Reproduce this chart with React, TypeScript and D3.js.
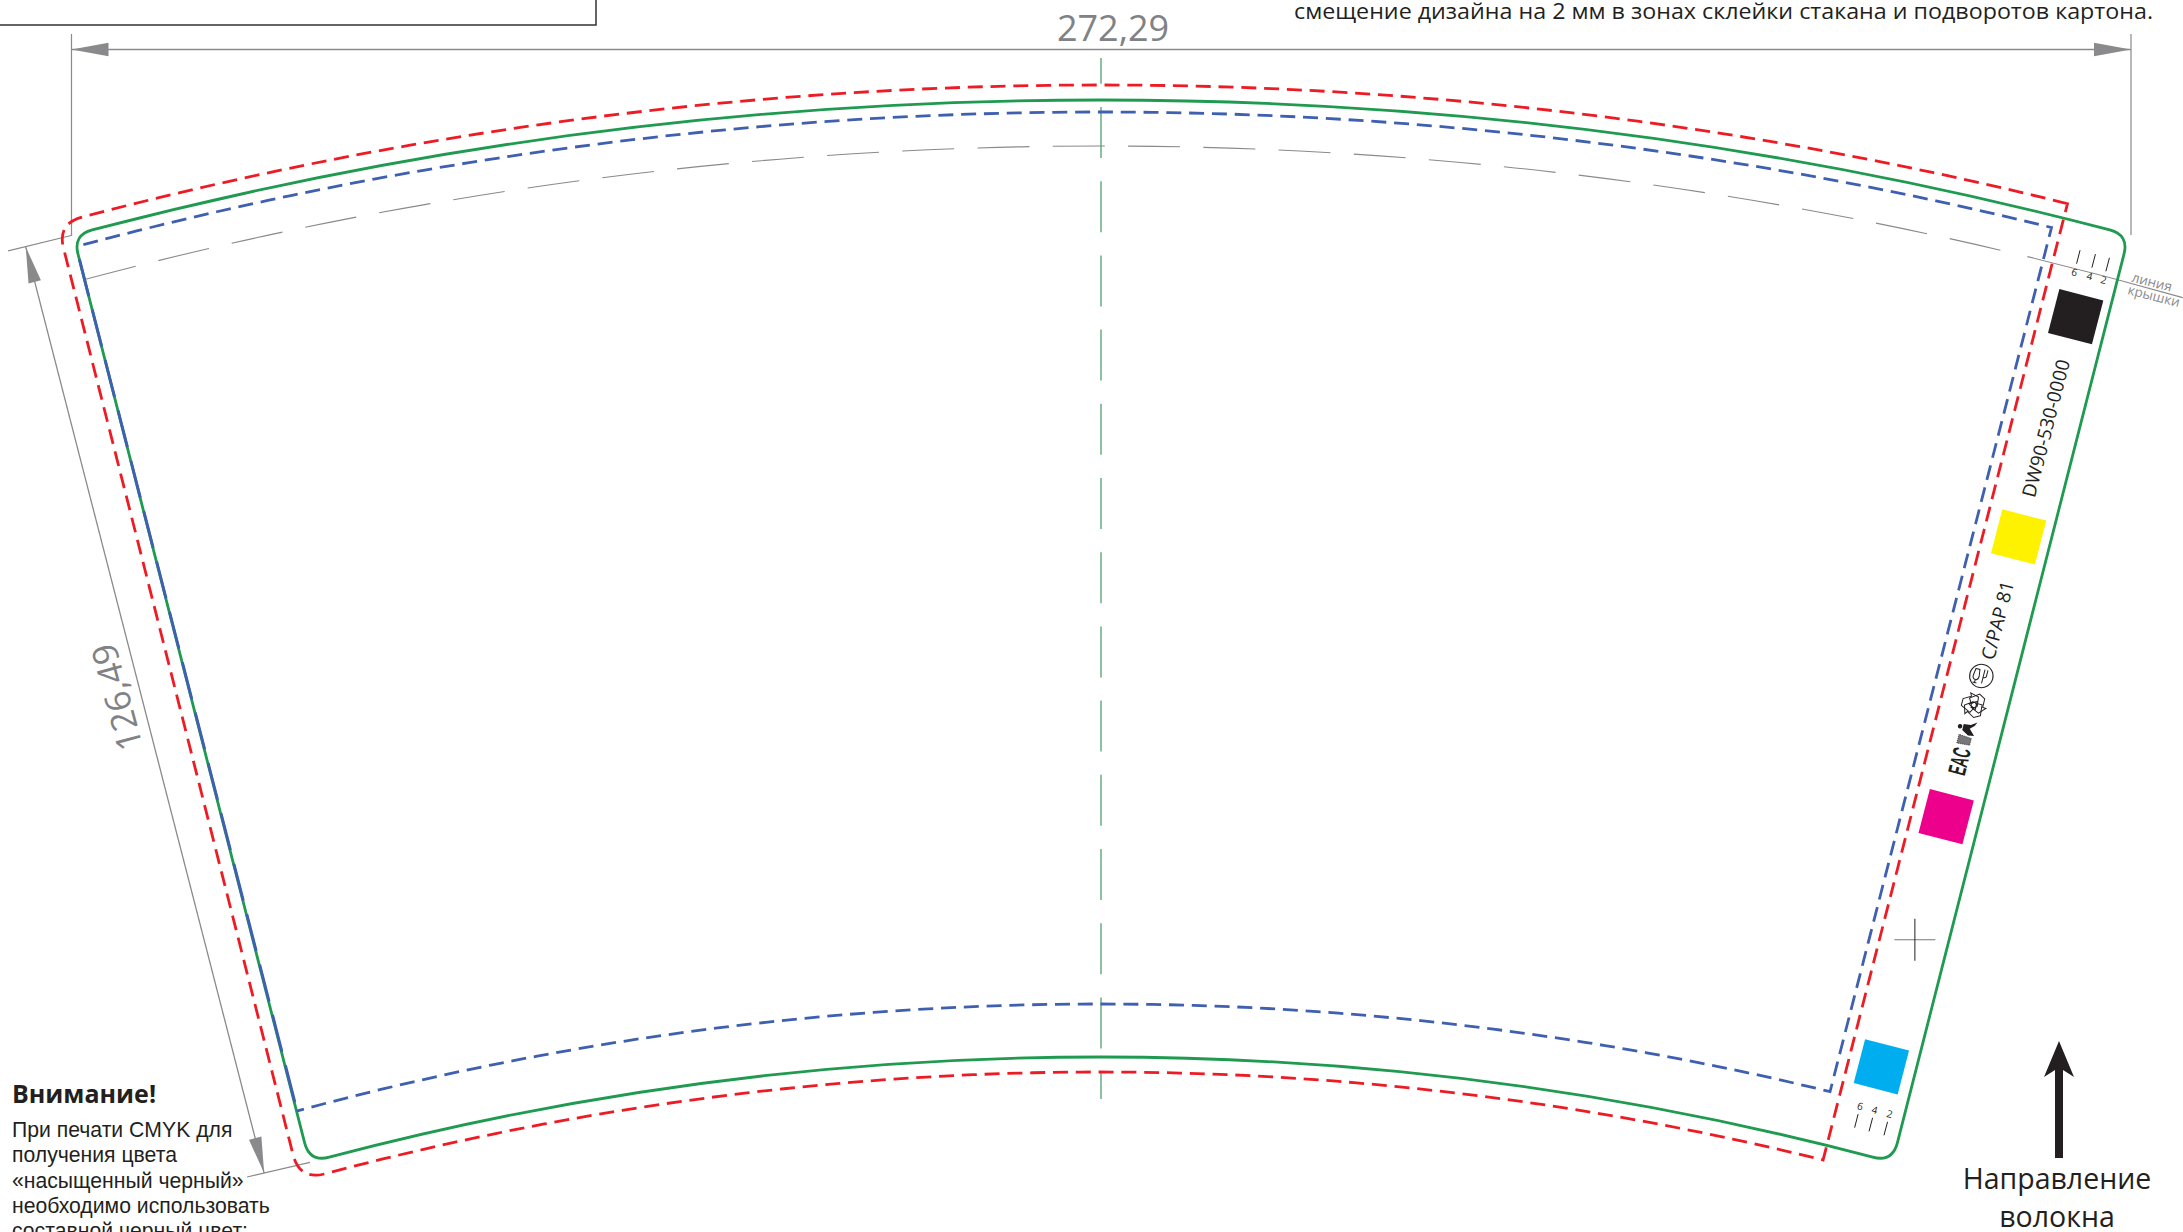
import React from "react";
import * as d3 from "d3";

const WIDTH = 2183;
const HEIGHT = 1232;

// Polar frame of the cup blank (radius in px, angle in degrees from the vertical)
const cupCenter = [1101, 4080];

const greenRadii = [3980, 3023];
const greenAngles = [14.97, 15.17];
const redRadii = [3995, 3008];
const redLeftAngles = [15.15, 15.44];
const redRightAngles = [14.0, 13.89];
const blueRadii = [3968, 3076];
const blueLeftAngles = [14.86, 15.16];
const blueRightAngles = [13.86, 13.71];
const lidRadius = 3934;
const lidDashAngles = [-14.96, 13.32];
const lidSolidAngles = [13.62, 15.96];

const swatchColors = ["#231f20", "#fff200", "#ec008c", "#00aeef"];
const swatchRadii = [3887.5, 3660, 3371, 3112.6];
const stripAngle = 14.52;

const tickLabels = ["6", "4", "2"];
const upperTickAngles = [14.34, 14.57, 14.78];
const lowerTickAngles = [14.32, 14.6, 14.89];

const widthLabel = "272,29";
const heightLabel = "126,49";
const warningTitle = "Внимание!";
const warningLines = [
  "При печати CMYK для",
  "получения цвета",
  "«насыщенный черный»",
  "необходимо использовать",
  "составной черный цвет:",
];
const noteLine = "смещение дизайна на 2 мм в зонах склейки стакана и подворотов картона.";
const grainLines = ["Направление", "волокна"];

const rad = d3.scaleLinear().domain([0, 180]).range([0, Math.PI]);
const pt = (r: number, a: number): [number, number] => [
  cupCenter[0] + r * Math.sin(rad(a)),
  cupCenter[1] - r * Math.cos(rad(a)),
];
const arcTo = (p: any, r: number, a0: number, a1: number) =>
  p.arc(cupCenter[0], cupCenter[1], r, rad(a0) - Math.PI / 2, rad(a1) - Math.PI / 2, a1 < a0);
const deg = (len: number, r: number) => ((len / r) * 180) / Math.PI;

function greenPath() {
  const [rt, rb] = greenRadii;
  const [At, Ab] = greenAngles;
  const c = 20;
  const dt = deg(c, rt);
  const db = deg(c, rb);
  const p = d3.path();
  p.moveTo(...pt(rt, -At + dt));
  arcTo(p, rt, -At + dt, At - dt);
  p.quadraticCurveTo(...pt(rt, At), ...pt(rt - c, At));
  p.lineTo(...pt(rb + c, Ab));
  p.quadraticCurveTo(...pt(rb, Ab), ...pt(rb, Ab - db));
  arcTo(p, rb, Ab - db, -Ab + db);
  p.quadraticCurveTo(...pt(rb, -Ab), ...pt(rb + c, -Ab));
  p.lineTo(...pt(rt - c, -At));
  p.quadraticCurveTo(...pt(rt, -At), ...pt(rt, -At + dt));
  p.closePath();
  return p.toString();
}

function redPath() {
  const [rt, rb] = redRadii;
  const [At, Ab] = redLeftAngles;
  const c = 26;
  const dt = deg(c, rt);
  const db = deg(c, rb);
  const p = d3.path();
  p.moveTo(...pt(rt, redRightAngles[0]));
  arcTo(p, rt, redRightAngles[0], -At + dt);
  p.quadraticCurveTo(...pt(rt, -At), ...pt(rt - c, -At));
  p.lineTo(...pt(rb + c, -Ab));
  p.quadraticCurveTo(...pt(rb, -Ab), ...pt(rb, -Ab + db));
  arcTo(p, rb, -Ab + db, redRightAngles[1]);
  p.closePath();
  return p.toString();
}

function bluePath() {
  const [rt, rb] = blueRadii;
  const p = d3.path();
  p.moveTo(...pt(rt, -blueLeftAngles[0]));
  arcTo(p, rt, -blueLeftAngles[0], blueRightAngles[0]);
  p.lineTo(...pt(rb, blueRightAngles[1]));
  arcTo(p, rb, blueRightAngles[1], -blueLeftAngles[1]);
  return p.toString();
}

function lidPath(a: number[]) {
  const p = d3.path();
  p.moveTo(...pt(lidRadius, a[0]));
  arcTo(p, lidRadius, a[0], a[1]);
  return p.toString();
}

function head(tip: number[], from: number[], len = 36, hw = 6.4) {
  const dx = tip[0] - from[0];
  const dy = tip[1] - from[1];
  const l = Math.hypot(dx, dy);
  const ux = dx / l;
  const uy = dy / l;
  const bx = tip[0] - ux * len;
  const by = tip[1] - uy * len;
  return `M${tip[0]},${tip[1]}L${bx - uy * hw},${by + ux * hw}L${bx + uy * hw},${by - ux * hw}Z`;
}

const line = (a: number[], b: number[]) => `M${a[0]},${a[1]}L${b[0]},${b[1]}`;

const GRAY = "#8a8a8c";
const DARK = "#231f20";
const MYRIAD = "'Open Sans', sans-serif";
const RECYCLE = "M-3.5,-12L3.5,-12L8,-4.5L11,-6L9,2.5L0,3.5L3,0.5L0,-5L-3.5,0.5L-8,-2Z";

function Along({ r, a, children }: any) {
  const [x, y] = pt(r, a);
  return <g transform={`translate(${x},${y}) rotate(${a - 90})`}>{children}</g>;
}

export default function App() {
  const dimTop = 49.5;
  const dimL = 71.5;
  const dimR = 2131;
  const leftTip = pt(3981, -15.67);
  const leftEnd = pt(3025, -16.06);
  const cross = pt(3244, 14.53);
  const grainX = 2059;

  return (
    <svg
      width={WIDTH}
      height={HEIGHT}
      viewBox={`0 0 ${WIDTH} ${HEIGHT}`}
      style={{ position: "absolute", left: 0, top: 0, background: "#fff" }}
    >
      {/* top-left frame */}
      <path d="M0,25H596V0" fill="none" stroke="#333" strokeWidth={1.5} />

      {/* note */}
      <text x={1294} y={19} fontFamily={MYRIAD} fontSize={22} fill={DARK} textLength={859} lengthAdjust="spacingAndGlyphs">
        {noteLine}
      </text>

      {/* width dimension */}
      <path d={`M${dimL},34V235M${dimR},34V235`} stroke={GRAY} strokeWidth={1.2} fill="none" />
      <path d={`M${dimL},${dimTop}H${dimR}`} stroke={GRAY} strokeWidth={1.5} fill="none" />
      <path d={head([dimL, dimTop], [dimR, dimTop], 37, 6.8)} fill={GRAY} />
      <path d={head([dimR, dimTop], [dimL, dimTop], 37, 6.8)} fill={GRAY} />
      <text x={1113} y={41} textAnchor="middle" fontFamily={MYRIAD} fontSize={36} fill="#808285">
        {widthLabel}
      </text>

      {/* height dimension */}
      <path d={line(pt(3982, -15.93), pt(3980, -14.98))} stroke={GRAY} strokeWidth={1.2} />
      <path d={line(pt(3026, -16.39), pt(3023, -15.17))} stroke={GRAY} strokeWidth={1.2} />
      <path d={line(leftTip, leftEnd)} stroke={GRAY} strokeWidth={1.3} />
      <path d={head(leftTip, leftEnd)} fill={GRAY} />
      <path d={head(leftEnd, leftTip)} fill={GRAY} />
      <text transform="translate(129,694) rotate(-105)" textAnchor="middle" fontFamily={MYRIAD} fontSize={35} fill="#808285">
        {heightLabel}
      </text>

      {/* lid line */}
      <path d={lidPath(lidDashAngles)} fill="none" stroke={GRAY} strokeWidth={1.1} strokeDasharray="52 23.3" />
      <path d={lidPath(lidSolidAngles)} fill="none" stroke={GRAY} strokeWidth={1.2} />

      {/* centre line */}
      <path
        d={`M${cupCenter[0]},58V1099`}
        fill="none"
        stroke="#5aa978"
        strokeWidth={1.4}
        strokeDasharray="51 23.2"
        strokeDashoffset={25.2}
      />

      {/* outlines */}
      <path d={greenPath()} fill="none" stroke="#1f9a50" strokeWidth={2.8} />
      <path d={redPath()} fill="none" stroke="#ed1c24" strokeWidth={2.8} strokeDasharray="15 7.8" />
      <path d={bluePath()} fill="none" stroke="#3f60b0" strokeWidth={2.8} strokeDasharray="15 7.8" />
      <path
        d={line(pt(3955, -greenAngles[0]), pt(blueRadii[1], -greenAngles[1] + 0.02))}
        fill="none"
        stroke="#3f60b0"
        strokeWidth={2.9}
        strokeDasharray="38 14"
      />

      {/* colour swatches */}
      {swatchColors.map((c, i) => {
        const [x, y] = pt(swatchRadii[i], stripAngle);
        return <rect key={c} x={-22.7} y={-22.7} width={45.4} height={45.4} fill={c} transform={`translate(${x},${y}) rotate(${stripAngle})`} />;
      })}

      {/* upper scale */}
      {tickLabels.map((t, i) => {
        const a = upperTickAngles[i];
        const [lx, ly] = pt(3930, a);
        return (
          <g key={`u${t}`}>
            <path d={line(pt(3953, a), pt(3939, a))} stroke={DARK} strokeWidth={1} />
            <text transform={`translate(${lx},${ly}) rotate(14.5)`} dy="0.35em" textAnchor="middle" fontFamily={MYRIAD} fontSize={10} fill={DARK}>{t}</text>
          </g>
        );
      })}
      {/* lower scale */}
      {tickLabels.map((t, i) => {
        const a = lowerTickAngles[i];
        const [lx, ly] = pt(3069, a);
        return (
          <g key={`l${t}`}>
            <path d={line(pt(3061, a), pt(3047, a))} stroke={DARK} strokeWidth={1} />
            <text transform={`translate(${lx},${ly}) rotate(14.5)`} dy="0.35em" textAnchor="middle" fontFamily={MYRIAD} fontSize={10} fill={DARK}>{t}</text>
          </g>
        );
      })}

      {/* lid label */}
      <text transform="translate(2152,282) rotate(14.5)" dy="0.35em" textAnchor="middle" fontFamily={MYRIAD} fontSize={13.5} fill={GRAY}>линия</text>
      <text transform="translate(2154,296) rotate(14.5)" dy="0.35em" textAnchor="middle" fontFamily={MYRIAD} fontSize={13.5} fill={GRAY}>крышки</text>

      {/* strip text */}
      <Along r={3772} a={14.51}>
        <text dy="0.35em" textAnchor="middle" fontFamily={MYRIAD} fontSize={19} fill={DARK}>DW90-530-0000</text>
      </Along>
      <Along r={3574} a={14.53}>
        <text dy="0.35em" textAnchor="middle" fontFamily={MYRIAD} fontSize={19} fill={DARK}>C/PAP 81</text>
      </Along>

      {/* food-safe mark */}
      <Along r={3516} a={14.5}>
        <circle r={11.7} fill="none" stroke={DARK} strokeWidth={1.1} />
        <path d="M-7,-6L-3,-6L-2,1Q-2,5-5,5Q-8,5-8,1ZM-5,5V8M-7,8H-3M2,-7V7M5,-7V-1Q5,1 2,1" fill="none" stroke={DARK} strokeWidth={1} transform="rotate(90)" />
      </Along>
      {/* recycling mark */}
      <Along r={3486} a={14.5}>
        <g fill="none" stroke={DARK} strokeWidth={1}>
          <path d={RECYCLE} />
          <path d={RECYCLE} transform="rotate(120)" />
          <path d={RECYCLE} transform="rotate(240)" />
        </g>
      </Along>
      {/* tidy-man mark */}
      <Along r={3457} a={14.5}>
        <circle cx={5} cy={-8} r={2.3} fill={DARK} />
        <path d="M2,-5L8,-5L9,2L13,8L9,6L5,2L-1,8L-2,2Z" fill={DARK} />
        <path d="M-12,-7H-3L-4,6H-11Z" fill="#777" stroke={DARK} strokeWidth={0.7} strokeDasharray="1 1" />
      </Along>
      {/* EAC */}
      <Along r={3428} a={14.5}>
        <text dy="0.35em" textAnchor="middle" fontFamily="'Liberation Sans', sans-serif" fontWeight={700} fontSize={25} textLength={27} lengthAdjust="spacingAndGlyphs" fill={DARK}>EAC</text>
      </Along>

      {/* registration cross */}
      <path d={`M${cross[0] - 20.5},${cross[1]}h41`} stroke="#777" strokeWidth={1.2} />
      <path d={`M${cross[0]},${cross[1] - 21}v42`} stroke={DARK} strokeWidth={1} />

      {/* grain direction */}
      <path d={`M${grainX},1041L${grainX + 15},1077L${grainX + 4},1070V1158H${grainX - 4}V1070L${grainX - 15},1077Z`} fill={DARK} />
      {grainLines.map((t, i) => (
        <text key={t} x={2057} y={1189 + i * 38} textAnchor="middle" fontFamily={MYRIAD} fontSize={28.5} fill={DARK}>{t}</text>
      ))}

      {/* warning */}
      <text x={12} y={1103} fontFamily={MYRIAD} fontWeight={700} fontSize={25} fill={DARK}>{warningTitle}</text>
      {warningLines.map((t, i) => (
        <text key={t} x={12} y={1137 + i * 25.3} fontFamily="'Liberation Sans', sans-serif" fontSize={21.2} fill={DARK}>{t}</text>
      ))}
    </svg>
  );
}
